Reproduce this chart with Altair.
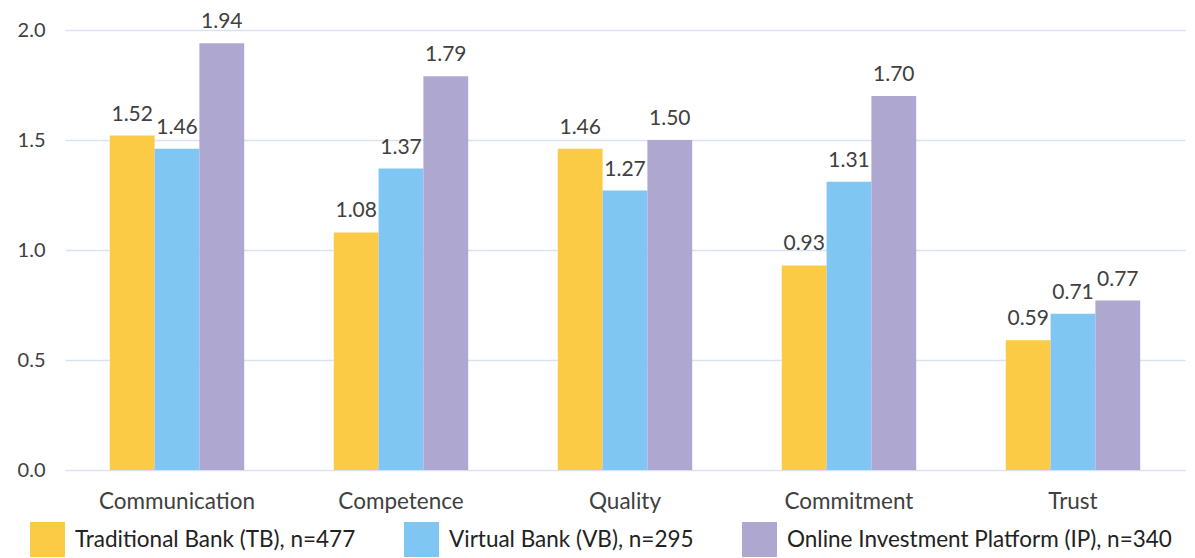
import altair as alt
import pandas as pd

categories = ["Communication", "Competence", "Quality", "Commitment", "Trust"]
series = ["Traditional Bank (TB), n=477", "Virtual Bank (VB), n=295", "Online Investment Platform (IP), n=340"]
tb = [1.52, 1.08, 1.46, 0.93, 0.59]
vb = [1.46, 1.37, 1.27, 1.31, 0.71]
ip = [1.94, 1.79, 1.50, 1.70, 0.77]
colors = ["#FBCB45", "#7FC6F2", "#AEA7D0"]

rows = []
for s, vals in zip(series, [tb, vb, ip]):
    for c, v in zip(categories, vals):
        rows.append({"category": c, "series": s, "value": v})
df = pd.DataFrame(rows)

FONT = "Lato"
TXT = "#404040"

base = alt.Chart(df).encode(
    x=alt.X("category:N", sort=categories, title=None,
            scale=alt.Scale(paddingInner=0.4, paddingOuter=0.2),
            axis=alt.Axis(labelAngle=0, labelFont=FONT, labelFontSize=22.5, labelColor=TXT,
                          domain=False, ticks=False, grid=False, labelPadding=20)),
    xOffset=alt.XOffset("series:N", sort=series),
)

bars = base.mark_bar().encode(
    y=alt.Y("value:Q", title=None,
            scale=alt.Scale(domain=[0, 2]),
            axis=alt.Axis(values=[0, 0.5, 1.0, 1.5, 2.0], format=".1f", labelFont=FONT,
                          labelFontSize=20, labelColor=TXT, domain=False, ticks=False,
                          labelPadding=20, gridColor="#D9E1F2", gridWidth=1.5)),
    color=alt.Color("series:N", sort=series, title=None,
                    scale=alt.Scale(domain=series, range=colors),
                    legend=alt.Legend(orient="none", direction="horizontal", legendX=-35, legendY=492,
                                      symbolType="square", symbolSize=1225, symbolStrokeWidth=0,
                                      symbolOpacity=1, labelFont=FONT, labelFontSize=22.5,
                                      labelColor="#222222", labelOffset=10, columnPadding=48,
                                      columns=3, labelLimit=600)),
)

labels = base.mark_text(baseline="alphabetic", dy=-15, font=FONT, fontSize=21, color=TXT).encode(
    y="value:Q",
    text=alt.Text("value:Q", format=".2f"),
)

chart = (bars + labels).properties(
    width=1120, height=440,
    autosize=alt.AutoSizeParams(type="none"),
    padding={"left": 65, "top": 30, "right": 10, "bottom": 88},
).configure(background="white").configure_view(stroke=None)

chart.save("out.html", embed_options={"renderer": "svg", "actions": False})
